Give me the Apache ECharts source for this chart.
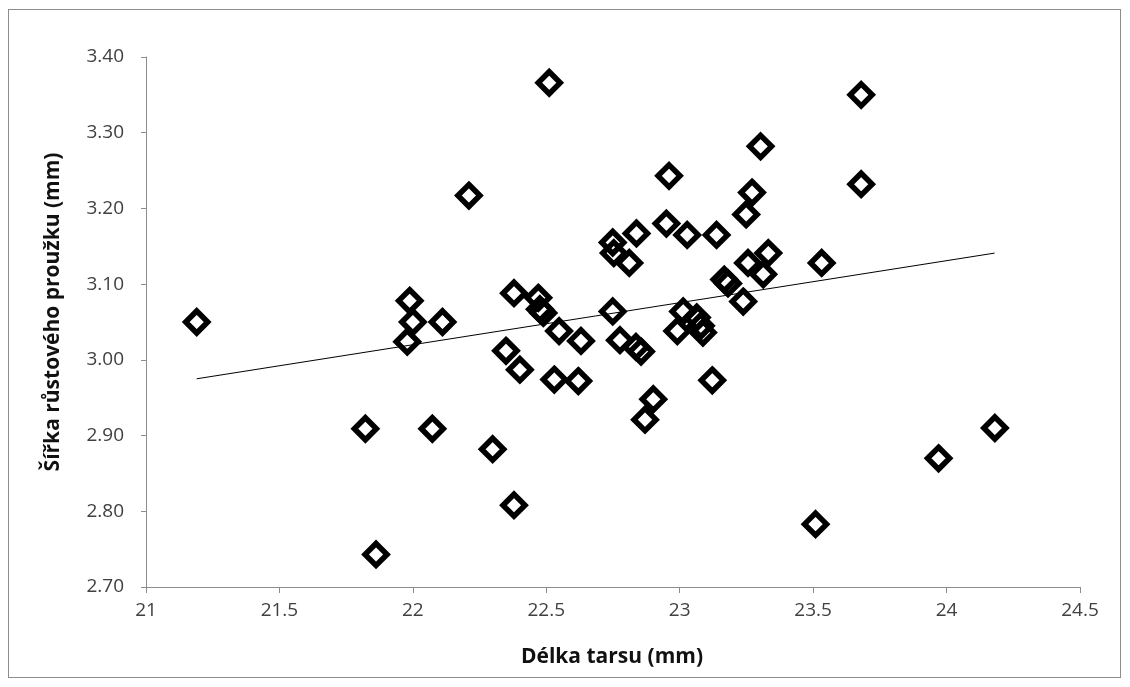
<!DOCTYPE html>
<html>
<head>
<meta charset="utf-8">
<script src="https://cdn.jsdelivr.net/npm/echarts@6/dist/echarts.min.js"></script>
<style>
  html, body { margin: 0; padding: 0; background: #ffffff; }
  #frame { position: absolute; left: 8px; top: 9px; width: 1113px; height: 669px; border: 1px solid #8c8c8c; box-sizing: border-box; }
  #chart { position: absolute; left: 0; top: 0; width: 1130px; height: 687px; }
</style>
</head>
<body>
<div id="frame"></div>
<div id="chart"></div>
<script>
// Délka tarsu (mm)
const tarsus = [
  21.19, 21.822, 21.862, 21.979, 21.988, 22.00, 22.073, 22.111, 22.210, 22.299,
  22.349, 22.379, 22.379, 22.401, 22.470, 22.476, 22.489, 22.511, 22.530, 22.548,
  22.630, 22.620, 22.749, 22.753, 22.811, 22.838, 22.749, 22.776, 22.836, 22.855,
  22.901, 22.870, 22.960, 22.950, 23.028, 23.013, 22.991, 23.064, 23.079, 23.087,
  23.122, 23.138, 23.167, 23.181, 23.238, 23.249, 23.271, 23.256, 23.303, 23.313,
  23.332, 23.509, 23.532, 23.680, 23.680, 23.970, 24.181
];
// Šířka růstového proužku (mm)
const bandWidth = [
  3.050, 2.909, 2.743, 3.024, 3.078, 3.050, 2.909, 3.050, 3.217, 2.882,
  3.012, 3.088, 2.808, 2.987, 3.082, 3.067, 3.062, 3.366, 2.974, 3.038,
  3.025, 2.972, 3.155, 3.141, 3.128, 3.167, 3.064, 3.026, 3.017, 3.011,
  2.948, 2.921, 3.243, 3.180, 3.165, 3.064, 3.038, 3.056, 3.045, 3.036,
  2.973, 3.165, 3.106, 3.101, 3.077, 3.192, 3.221, 3.128, 3.282, 3.113,
  3.141, 2.783, 3.128, 3.350, 3.232, 2.870, 2.910
];
// linear trendline end points as drawn
const trendX = [21.19, 24.18];
const trendY = [2.975, 3.141];

const xTicks = { min: 21, max: 24.5, step: 0.5 };
const yTicks = { min: 2.7, max: 3.4, step: 0.1 };
const xTitle = 'Délka tarsu (mm)';
const yTitle = 'Šířka růstového proužku (mm)';

const points = tarsus.map((x, i) => [x, bandWidth[i]]);
const trend = trendX.map((x, i) => [x, trendY[i]]);

const FONT = "'Open Sans', 'Noto Sans', sans-serif";
const axisGray = '#8c8c8c';

const chart = echarts.init(document.getElementById('chart'), null, { renderer: 'canvas' });
chart.setOption({
  backgroundColor: 'transparent',
  animation: false,
  grid: { left: 146, right: 50, top: 57, bottom: 100, containLabel: false },
  xAxis: {
    type: 'value',
    min: xTicks.min, max: xTicks.max, interval: xTicks.step,
    axisLine: { show: true, onZero: false, lineStyle: { color: axisGray, width: 1 } },
    axisTick: { show: true, inside: false, length: 6, lineStyle: { color: axisGray } },
    splitLine: { show: false },
    axisLabel: { color: '#404040', fontFamily: FONT, fontSize: 19, margin: 14, formatter: v => String(+v.toFixed(1)) }
  },
  yAxis: {
    type: 'value',
    min: yTicks.min, max: yTicks.max, interval: yTicks.step,
    axisLine: { show: true, onZero: false, lineStyle: { color: axisGray, width: 1 } },
    axisTick: { show: true, inside: false, length: 5, lineStyle: { color: axisGray } },
    splitLine: { show: false },
    axisLabel: { color: '#404040', fontFamily: FONT, fontSize: 19, margin: 22, formatter: v => v.toFixed(2) }
  },
  graphic: [
    { type: 'text', x: 612, y: 657, style: { text: xTitle, font: "bold 21px " + FONT, fill: '#111111', align: 'center', verticalAlign: 'middle' } },
    { type: 'text', x: 53, y: 312, rotation: Math.PI / 2, style: { text: yTitle, font: "bold 21px " + FONT, fill: '#111111', align: 'center', verticalAlign: 'middle' } }
  ],
  series: [
    {
      type: 'scatter',
      data: points,
      symbol: 'diamond',
      symbolSize: 22,
      itemStyle: { color: 'rgba(255,255,255,0)', borderColor: '#000000', borderWidth: 5.5, opacity: 1 },
      z: 2
    },
    {
      type: 'line',
      data: trend,
      showSymbol: false,
      symbol: 'none',
      lineStyle: { color: '#000000', width: 1 },
      z: 3
    }
  ]
});
</script>
</body>
</html>
